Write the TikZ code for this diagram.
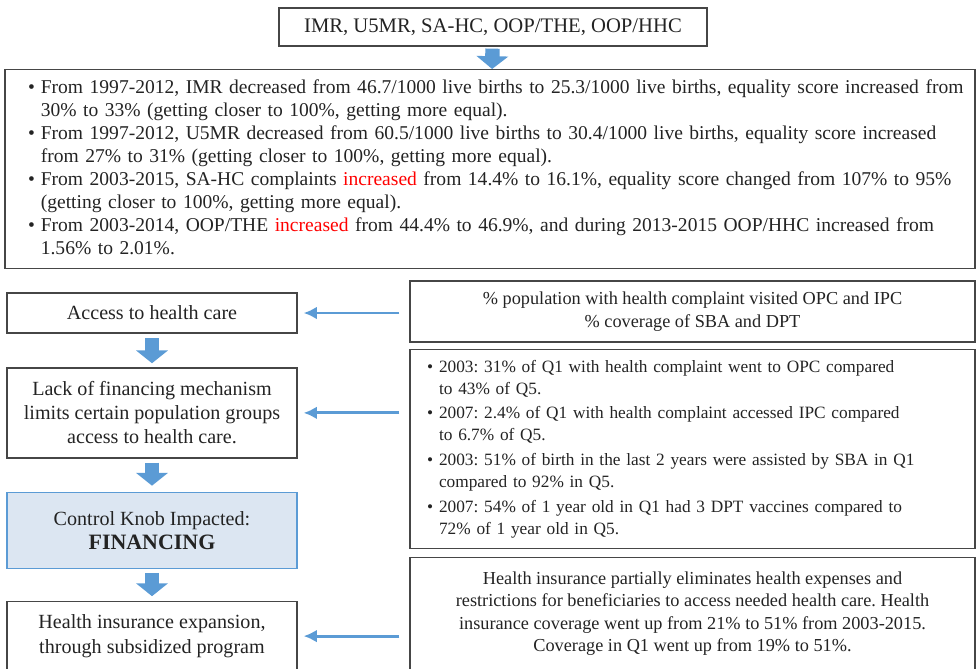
\documentclass[tikz,border=0pt]{standalone}
\usepackage{fontspec}
\setmainfont{Liberation Serif}
\usepackage{xcolor}
\usepackage{tikz}
\usetikzlibrary{arrows.meta,positioning}
\definecolor{flowblue}{RGB}{91,155,213}
\definecolor{boxline}{RGB}{70,70,70}
\definecolor{knobfill}{RGB}{220,230,242}
\definecolor{inktext}{RGB}{35,35,35}
\frenchspacing

\begin{document}
\begin{tikzpicture}[every node/.style={font=\fontsize{13}{16}\selectfont, text=inktext},
    infobox/.style={draw=boxline, line width=0.9pt, align=center, inner sep=0pt},
    chainbox/.style={infobox, minimum width=7.25cm, font=\fontsize{14.3}{17.2}\selectfont},
    knobbox/.style={chainbox, draw=flowblue, fill=knobfill},
    downflow/.style={draw=flowblue, line width=0.36cm, -{Triangle[width=0.78cm, length=0.32cm]}},
    sideflow/.style={draw=flowblue, line width=2pt, -{Latex[length=0.33cm, width=0.32cm]}, shorten <=0.25cm, shorten >=0.15cm}]
    \useasboundingbox (0,0) rectangle (24.4,-16.7);

    % top: indicators and what happened to them
    \node[infobox, minimum width=10.7cm, minimum height=0.95cm, font=\fontsize{14.7}{17}\selectfont] (metrics) at (12.325,-0.675) {IMR, U5MR, SA-HC, OOP/THE, OOP/HHC};
    \node[infobox, minimum width=24.25cm, minimum height=4.975cm, text width=23.1cm, inner xsep=0.575cm, align=left, anchor=north, font=\fontsize{13.9}{16.4}\selectfont] (trends) at (12.25,-1.725) {%
        \begin{tabular}{@{}l@{\hspace{0.15cm}}l@{}}
        \textbullet & From 1997-2012, IMR decreased from 46.7/1000 live births to 25.3/1000 live births, equality score increased from\\
         & 30\% to 33\% (getting closer to 100\%, getting more equal).\\
        \textbullet & From 1997-2012, U5MR decreased from 60.5/1000 live births to 30.4/1000 live births, equality score increased\\
         & from 27\% to 31\% (getting closer to 100\%, getting more equal).\\
        \textbullet & From 2003-2015, SA-HC complaints \textcolor{red}{increased} from 14.4\% to 16.1\%, equality score changed from 107\% to 95\%\\
         & (getting closer to 100\%, getting more equal).\\
        \textbullet & From 2003-2014, OOP/THE \textcolor{red}{increased} from 44.4\% to 46.9\%, and during 2013-2015 OOP/HHC increased from\\
         & 1.56\% to 2.01\%.
        \end{tabular}};

    % left column: the causal chain
    \node[chainbox, minimum height=1cm] (access) at (3.8,-7.825) {Access to health care};
    \node[chainbox, minimum height=2.25cm, below=0.84cm of access] (lack) {Lack of financing mechanism\\ limits certain population groups\\ access to health care.};
    \node[knobbox, minimum height=1.9cm, below=0.83cm of lack] (knob) {Control Knob Impacted:\\ {\fontsize{15.6}{18}\selectfont\bfseries FINANCING}};
    \node[chainbox, minimum height=1.725cm, below=0.8cm of knob] (reform) {Health insurance expansion,\\ through subsidized program};

    % right column: the evidence
    \node[infobox, minimum width=14.125cm, minimum height=1.525cm] (usage) at (17.3125,-7.7875) {\% population with health complaint visited OPC and IPC\\ \% coverage of SBA and DPT};
    \node[infobox, minimum width=14.125cm, minimum height=4.975cm, text width=13.275cm, inner xsep=0.425cm, align=left, below=0.15cm of usage, font=\fontsize{12.3}{15.6}\selectfont] (gaps) {%
        \begin{tabular}{@{}l@{\hspace{0.15cm}}l@{}}
        \textbullet & 2003: 31\% of Q1 with health complaint went to OPC compared\\
         & to 43\% of Q5.\\[2pt]
        \textbullet & 2007: 2.4\% of Q1 with health complaint accessed IPC compared\\
         & to 6.7\% of Q5.\\[2pt]
        \textbullet & 2003: 51\% of birth in the last 2 years were assisted by SBA in Q1\\
         & compared to 92\% in Q5.\\[2pt]
        \textbullet & 2007: 54\% of 1 year old in Q1 had 3 DPT vaccines compared to\\
         & 72\% of 1 year old in Q5.
        \end{tabular}};
    \node[infobox, minimum width=14.125cm, minimum height=2.8cm, below=0.2cm of gaps] (coverage) {Health insurance partially eliminates health expenses and\\ restrictions for beneficiaries to access needed health care. Health\\ insurance coverage went up from 21\% to 51\% from 2003-2015.\\ Coverage in Q1 went up from 19\% to 51\%.};

    \draw[downflow, shorten <=0.05cm] (metrics) -- (trends);
    \draw[downflow, shorten <=0.12cm, shorten >=0.1cm] (access) -- (lack);
    \draw[downflow, shorten <=0.1cm, shorten >=0.15cm] (lack) -- (knob);
    \draw[downflow, shorten <=0.1cm, shorten >=0.12cm] (knob) -- (reform);

    \draw[sideflow] (usage.west |- access.east) -- (access.east);
    \draw[sideflow] (gaps.west |- lack.east) -- (lack.east);
    \draw[sideflow] (coverage.west |- reform.east) -- (reform.east);
\end{tikzpicture}
\end{document}
